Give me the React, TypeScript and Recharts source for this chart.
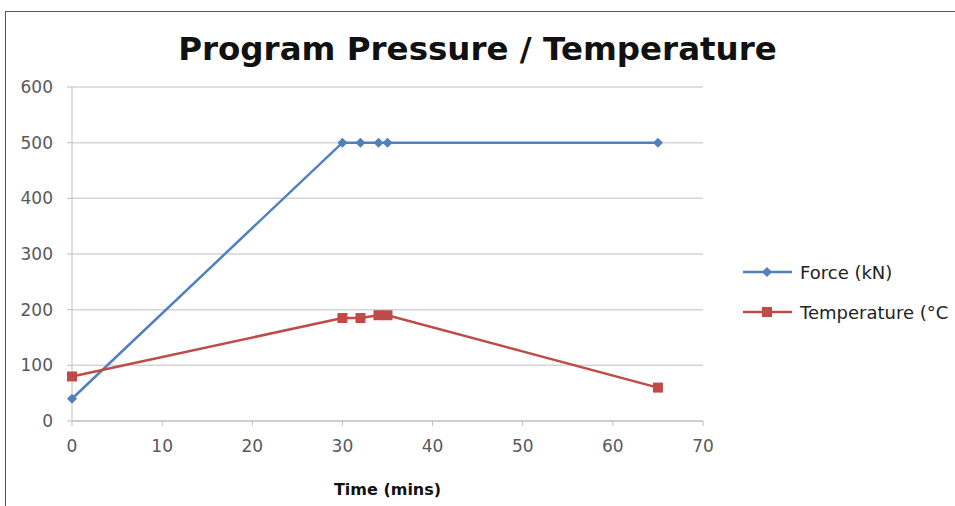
import React from "react";
import { CartesianGrid, Legend, Line, LineChart, XAxis, YAxis } from "recharts";

const forceTimes = [0, 30, 32, 34, 35, 65];
const forceValues = [40, 500, 500, 500, 500, 500];
const tempTimes = [0, 30, 32, 34, 35, 65];
const tempValues = [80, 185, 185, 190, 190, 60];
const xTicks = [0, 10, 20, 30, 40, 50, 60, 70];
const yTicks = [0, 100, 200, 300, 400, 500, 600];

const BLUE = "#4F81BD";
const RED = "#BE4B48";
const FONT = "'DejaVu Sans', Verdana, sans-serif";

const forceData = forceTimes.map((t, i) => ({ time: t, force: forceValues[i] }));
const tempData = tempTimes.map((t, i) => ({ time: t, temp: tempValues[i] }));

function Diamond({ cx, cy, fill }: any) {
  if (cx == null || cy == null) return null;
  const r = 5;
  return <polygon points={`${cx},${cy - r} ${cx + r},${cy} ${cx},${cy + r} ${cx - r},${cy}`} fill={fill} />;
}

function Square({ cx, cy, fill }: any) {
  if (cx == null || cy == null) return null;
  const s = 5;
  return <rect x={cx - s} y={cy - s} width={s * 2} height={s * 2} fill={fill} />;
}

function LegendBox() {
  const items = [
    { label: "Force (kN)", color: BLUE, marker: "diamond" },
    { label: "Temperature (°C", color: RED, marker: "square" }
  ];
  return (
    <div style={{ fontFamily: FONT, fontSize: 18, color: "#222" }}>
      {items.map((it) => (
        <div key={it.label} style={{ display: "flex", alignItems: "center", height: 40 }}>
          <svg width={56} height={14} style={{ marginLeft: 40, flex: "none" }}>
            <line x1={0} y1={7} x2={49} y2={7} stroke={it.color} strokeWidth={2.5} />
            {it.marker === "diamond" ? <Diamond cx={24} cy={7} fill={it.color} /> : <Square cx={24} cy={7} fill={it.color} />}
          </svg>
          <span style={{ marginLeft: 1, whiteSpace: "nowrap" }}>{it.label}</span>
        </div>
      ))}
    </div>
  );
}

export default function App() {
  return (
    <div style={{ position: "absolute", left: 0, top: 0, width: 955, height: 506, background: "#fff", overflow: "hidden" }}>
      <div style={{ position: "absolute", left: 5, top: 11, width: 950, height: 495, borderTop: "1.5px solid #555", borderLeft: "1.5px solid #555" }} />
      <div
        style={{
          position: "absolute",
          left: 0,
          width: 955,
          top: 29,
          textAlign: "center",
          fontFamily: FONT,
          fontWeight: 700,
          fontSize: 32.5,
          color: "#111",
          lineHeight: "40px",
          whiteSpace: "nowrap"
        }}
      >
        Program Pressure / Temperature
      </div>
      <div style={{ position: "absolute", left: 0, top: 0 }}>
        <LineChart width={955} height={506} margin={{ top: 87, right: 32, bottom: 9, left: 0 }}>
          <CartesianGrid horizontal vertical={false} stroke="#d4d4d4" strokeWidth={1.5} />
          <XAxis
            type="number"
            dataKey="time"
            domain={[0, 70]}
            ticks={xTicks}
            height={76}
            allowDuplicatedCategory={false}
            stroke="#bfbfbf"
            tickSize={5}
            tickMargin={14}
            tick={{ fill: "#595959", fontSize: 17, fontFamily: FONT }}
            label={{ value: "Time (mins)", position: "insideBottom", offset: 2, fill: "#111", fontSize: 16, fontFamily: FONT, fontWeight: 700 }}
          />
          <YAxis
            type="number"
            domain={[0, 600]}
            ticks={yTicks}
            width={72}
            stroke="#bfbfbf"
            tickSize={5}
            tickMargin={14}
            tick={{ fill: "#595959", fontSize: 17, fontFamily: FONT }}
          />
          <Legend
            layout="vertical"
            align="right"
            verticalAlign="middle"
            wrapperStyle={{ top: 252, right: 32, width: 220 }}
            content={() => <LegendBox />}
          />
          <Line
            data={forceData}
            dataKey="force"
            name="Force (kN)"
            stroke={BLUE}
            strokeWidth={2.5}
            dot={(p: any) => <Diamond key={`f${p.index}`} cx={p.cx} cy={p.cy} fill={BLUE} />}
            activeDot={false}
            isAnimationActive={false}
          />
          <Line
            data={tempData}
            dataKey="temp"
            name="Temperature (°C)"
            stroke={RED}
            strokeWidth={2.5}
            dot={(p: any) => <Square key={`t${p.index}`} cx={p.cx} cy={p.cy} fill={RED} />}
            activeDot={false}
            isAnimationActive={false}
          />
        </LineChart>
      </div>
    </div>
  );
}
